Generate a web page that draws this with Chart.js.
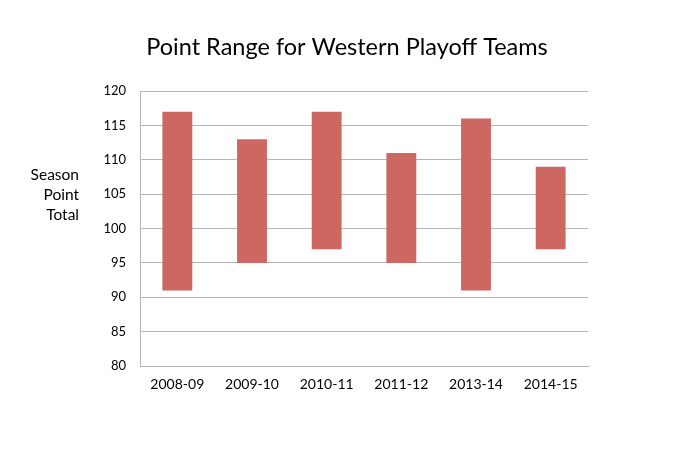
<!DOCTYPE html>
<html>
<head>
<meta charset="utf-8">
<script src="https://cdn.jsdelivr.net/npm/chart.js@4"></script>
<style>
html,body{margin:0;padding:0;background:#fff;}
#wrap{width:700px;height:449px;}
</style>
</head>
<body>
<div id="wrap"><canvas id="c"></canvas></div>
<script>
const categories = ['2008-09','2009-10','2010-11','2011-12','2013-14','2014-15'];
const lowPoints  = [91, 95, 97, 95, 91, 97];
const highPoints = [117, 113, 117, 111, 116, 109];
const yTicks = [80, 85, 90, 95, 100, 105, 110, 115, 120];
const chartTitle = 'Point Range for Western Playoff Teams';
const yTitleLines = ['Season', 'Point', 'Total'];

const FONT = 'Lato, "Open Sans", sans-serif';

const textPlugin = {
  id: 'texts',
  afterDraw(chart) {
    const ctx = chart.ctx;
    ctx.save();
    ctx.fillStyle = '#000';
    // main title
    ctx.font = '23.5px ' + FONT;
    ctx.textAlign = 'center';
    ctx.textBaseline = 'alphabetic';
    ctx.fillText(chartTitle, 347, 55);
    // y axis title
    ctx.font = '15.5px ' + FONT;
    ctx.textAlign = 'right';
    ctx.textBaseline = 'middle';
    const mid = (chart.chartArea.top + chart.chartArea.bottom) / 2 - 34;
    yTitleLines.forEach((t, i) => {
      ctx.fillText(t, 79, mid + (i - 1) * 20);
    });
    ctx.restore();
  }
};

new Chart(document.getElementById('c'), {
  type: 'bar',
  data: {
    labels: categories,
    datasets: [{
      data: categories.map((_, i) => [lowPoints[i], highPoints[i]]),
      backgroundColor: '#CC6762',
      borderWidth: 0,
      barPercentage: 0.4,
      categoryPercentage: 1.0
    }]
  },
  options: {
    responsive: true,
    maintainAspectRatio: false,
    animation: false,
    layout: { padding: { left: 0, right: 112, top: 91, bottom: 0 } },
    plugins: {
      legend: { display: false },
      tooltip: { enabled: false },
      title: { display: false }
    },
    scales: {
      x: {
        grid: { display: false, drawTicks: false },
        border: { display: true, color: '#B5B5B5', width: 1 },
        ticks: { color: '#000', font: { family: FONT, size: 14 }, padding: 10, maxRotation: 0 },
        afterFit(s) { s.height = 83; }
      },
      y: {
        min: 80, max: 120,
        afterBuildTicks(s) { s.ticks = yTicks.map(v => ({ value: v })); },
        grid: { color: '#B5B5B5', lineWidth: 1, drawTicks: false },
        border: { display: true, color: '#B5B5B5', width: 1 },
        ticks: { color: '#000', font: { family: FONT, size: 13 }, padding: 14 },
        afterFit(s) { s.width = 140; }
      }
    }
  },
  plugins: [textPlugin]
});
</script>
</body>
</html>
